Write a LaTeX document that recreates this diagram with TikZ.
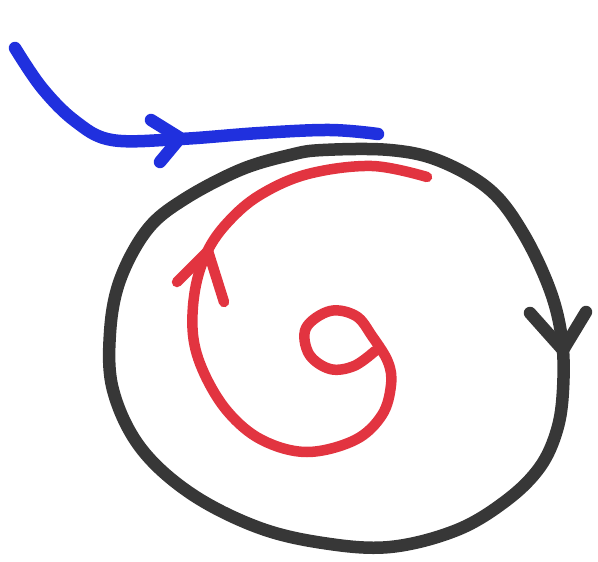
\documentclass[tikz,border=0pt]{standalone}
\definecolor{penblue}{RGB}{32,48,222}
\definecolor{penblack}{RGB}{55,55,55}
\definecolor{penred}{RGB}{226,52,64}
\begin{document}
\begin{tikzpicture}[x=1pt,y=-1pt,
  pen/.style={line cap=round,line join=round},
  bluepen/.style={pen,draw=penblue,line width=12.5pt},
  blackpen/.style={pen,draw=penblack,line width=12.5pt},
  redpen/.style={pen,draw=penred,line width=10.5pt}]
\useasboundingbox (0,0) rectangle (598,562);
% black circle
\draw[blackpen] plot[smooth cycle,tension=0.6] coordinates {
 (323,150) (390,150) (440,161) (490,190) (523,233) (550,290) (562,340)
 (563,390) (557,430) (540,467) (507,500) (457,530) (390,547) (323,543)
 (257,527) (190,493) (140,447) (113,390) (110,333) (120,280) (147,230)
 (183,200) (240,170) (290,155)};
\coordinate (ktip) at (563,350);
\draw[blackpen] (530,313) -- (ktip) -- (586,312);
% blue curve
\draw[bluepen] plot[smooth,tension=0.6] coordinates {
 (15,48) (42,88) (75,121) (112,140) (180,139) (260,133) (330,130) (378,134)};
\coordinate (btip) at (180,138);
\draw[bluepen] (151,120) -- (btip) -- (160,162);
% red spiral
\draw[redpen] plot[smooth,tension=0.6] coordinates {
 (375,351) (354,366) (330,369) (309,354) (306,328) (330,311) (356,316)
 (372,336) (388,362) (391,385) (382,415) (355,440) (307,452) (262,440) (228,412)
 (204,373) (193,335) (195,290) (207,252) (228,222) (260,195) (308,174)
 (372,166) (427,177)};
\coordinate (rtip) at (208,251);
\draw[redpen] (177,282) -- (rtip) -- (224,302);
\end{tikzpicture}
\end{document}
